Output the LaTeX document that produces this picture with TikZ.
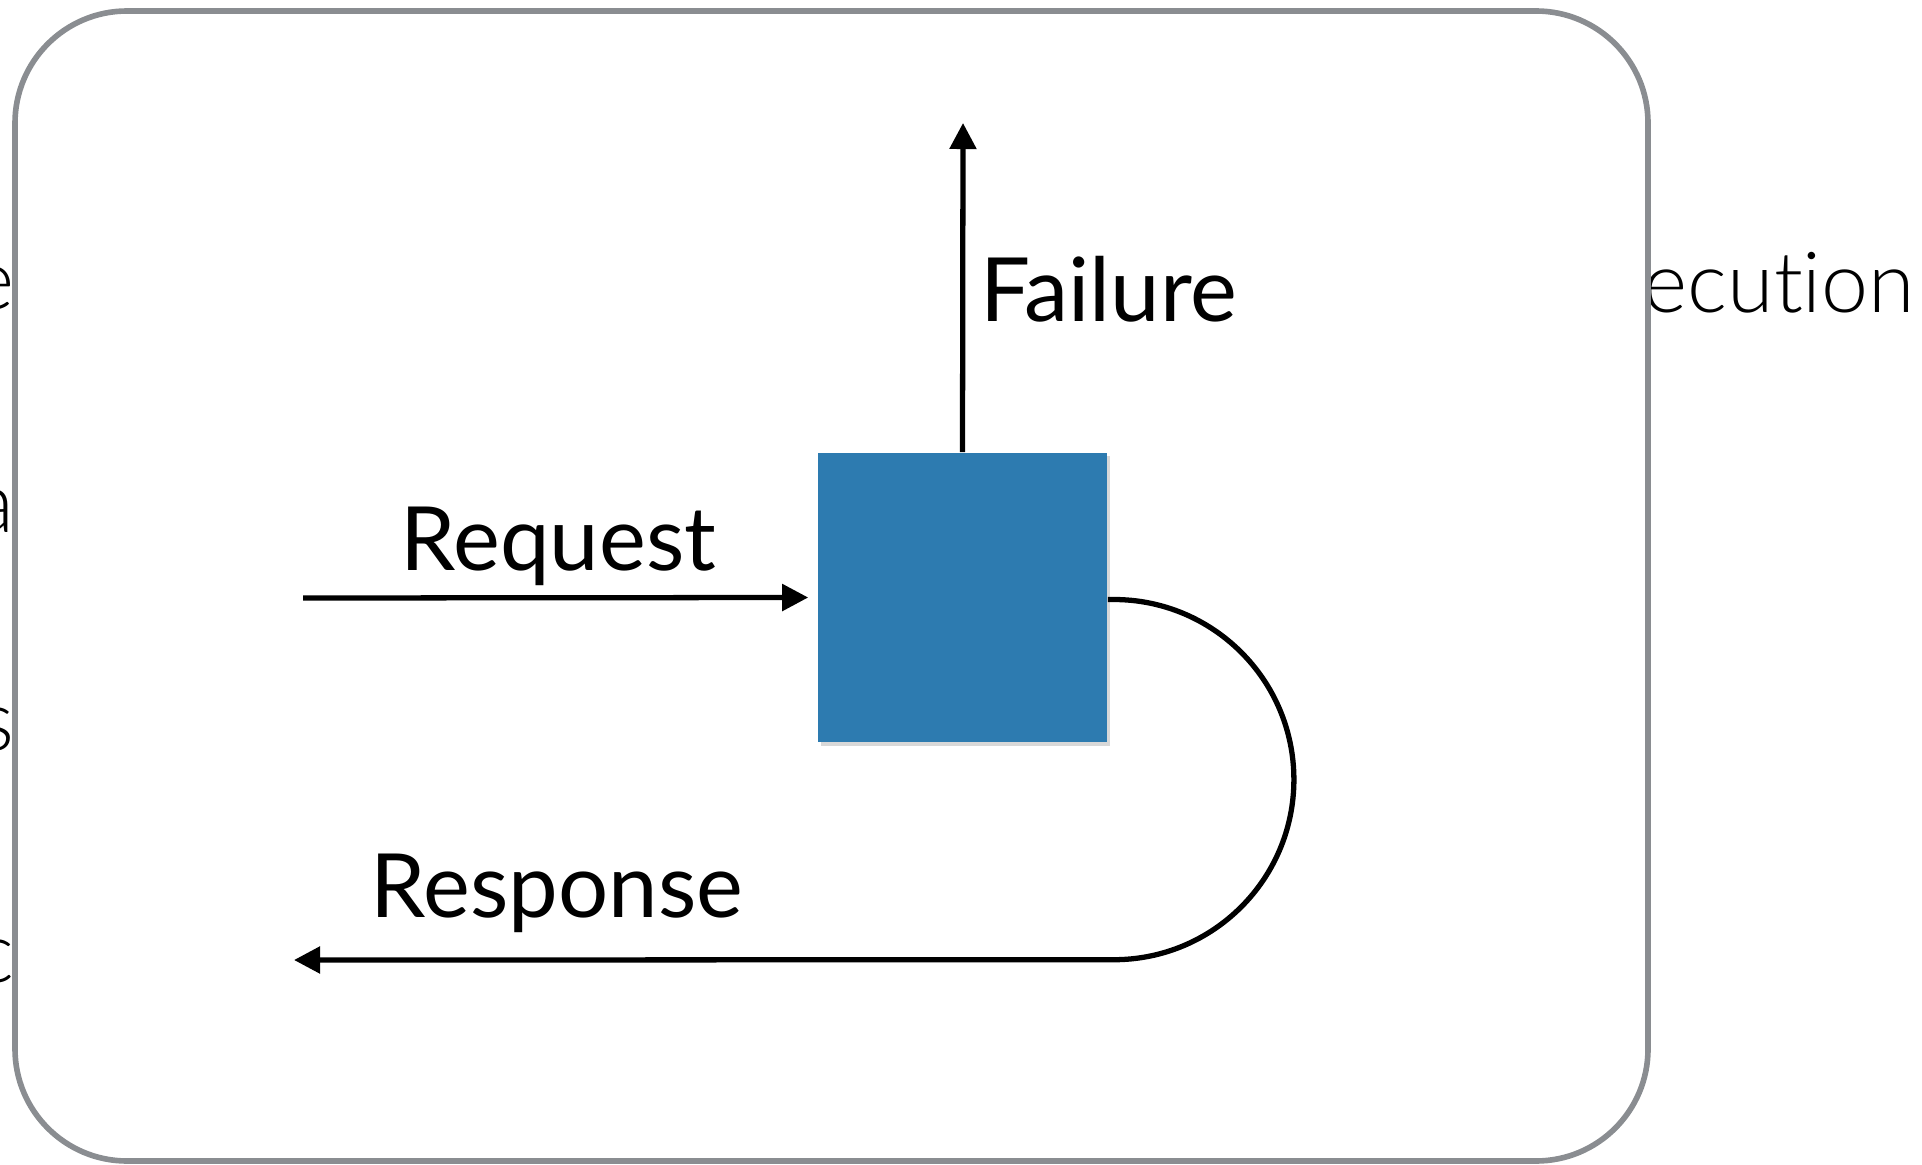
\documentclass[tikz,border=0pt]{standalone}
\usepackage{fontspec}
\setmainfont{Lato}
\newfontfamily\lightfont[Ligatures={NoCommon,NoRare}]{Lato Light}
\usetikzlibrary{arrows.meta,shadows}
\definecolor{boxblue}{RGB}{45,123,176}
\definecolor{framegray}{RGB}{138,141,145}
\tikzset{
  link/.style={line width=1.5pt, -{Triangle[length=0.26cm,width=0.26cm]}},
  label/.style={font=\fontsize{25.2}{30}\selectfont, inner sep=0pt, anchor=base west},
  behind/.style={font=\lightfont\fontsize{24}{28}\selectfont, inner sep=0pt}
}
\begin{document}
\begin{tikzpicture}[x=0.01cm,y=-0.01cm]
\useasboundingbox (0,0) rectangle (1922,1164);
\node[behind, anchor=base west] (exec) at (1643,313) {ecution};
\node[behind, anchor=base east] (l1) at (15,310) {e};
\node[behind, anchor=base east] (l2) at (15,532) {a};
\node[behind, anchor=base east] (l3) at (15,750) {s};
\node[behind, anchor=base east] (l4) at (15,982) {c};
\filldraw[fill=white, draw=framegray, line width=1.6pt, rounded corners=1.12cm] (15,11) rectangle (1648,1161);
\node[fill=boxblue, minimum size=2.89cm, inner sep=0pt, drop shadow={shadow xshift=0.8pt, shadow yshift=-1pt, opacity=0.3}] (box) at (962.5,597.5) {};
\coordinate (fail) at (963,123);
\coordinate (req) at (303,598);
\coordinate (resp) at (294,960);
\draw[link] (box.north) -- (fail);
\draw[link] (req) -- ([xshift=-0.09cm]box.west);
\draw[link] ([yshift=-0.02cm]box.east) -- ++(6,0) arc[start angle=90, end angle=-90, radius=1.8cm] -- (resp);
\node[label] (failure) at (980,321) {Failure};
\node[label] (request) at (400,570) {Request};
\node[label] (response) at (370,917) {Response};
\end{tikzpicture}
\end{document}
